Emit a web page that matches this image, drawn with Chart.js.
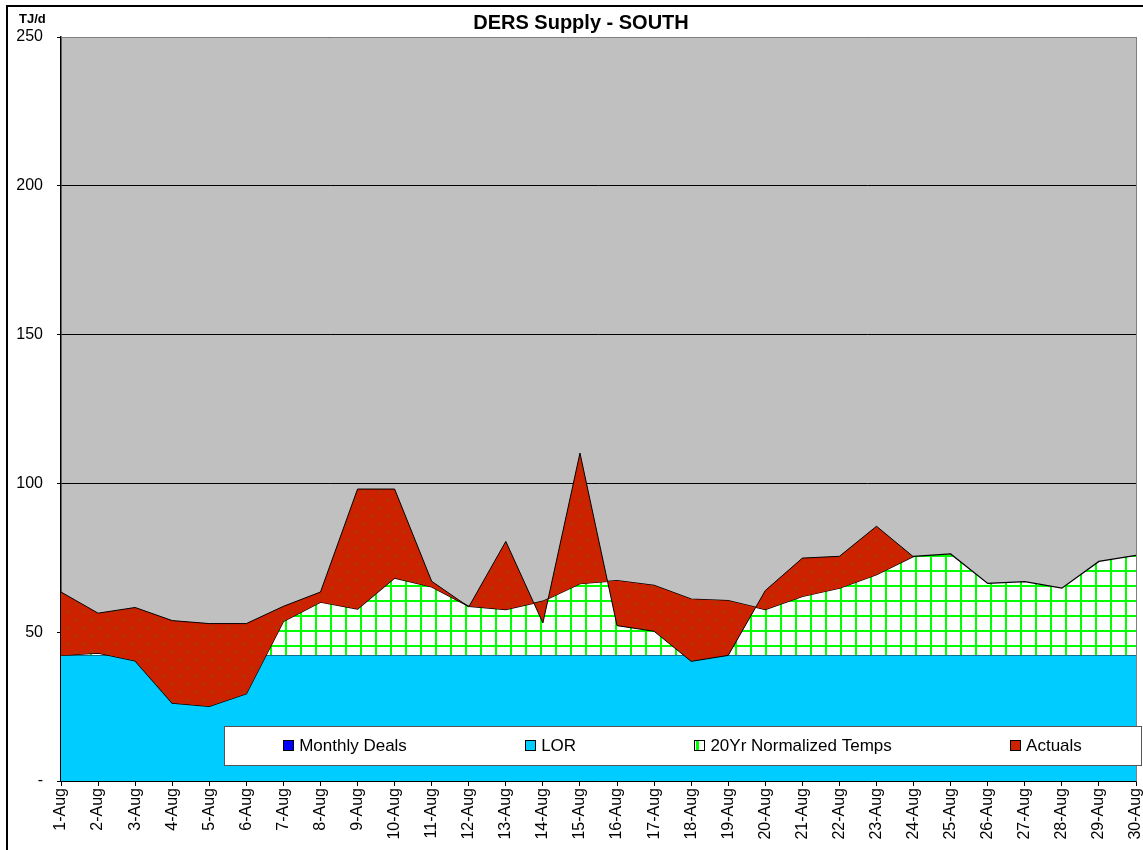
<!DOCTYPE html>
<html>
<head>
<meta charset="utf-8">
<title>DERS Supply - SOUTH</title>
<script src="https://cdn.jsdelivr.net/npm/chart.js@4"></script>
<style>
  body { margin: 0; background: #fff; }
  canvas { display: block; }
</style>
</head>
<body>
<canvas id="myChart" width="1143" height="850"></canvas>
<script>
'use strict';
// values (TJ/d)
let days = ['1-Aug','2-Aug','3-Aug','4-Aug','5-Aug','6-Aug','7-Aug','8-Aug','9-Aug','10-Aug',
  '11-Aug','12-Aug','13-Aug','14-Aug','15-Aug','16-Aug','17-Aug','18-Aug','19-Aug','20-Aug',
  '21-Aug','22-Aug','23-Aug','24-Aug','25-Aug','26-Aug','27-Aug','28-Aug','29-Aug','30-Aug'];
let monthlyDeals = [0,0,0,0,0,0,0,0,0,0, 0,0,0,0,0,0,0,0,0,0, 0,0,0,0,0,0,0,0,0,0];
let lor = [42.3,42.3,42.3,42.3,42.3,42.3,42.3,42.3,42.3,42.3, 42.3,42.3,42.3,42.3,42.3,42.3,42.3,42.3,42.3,42.3,
  42.3,42.3,42.3,42.3,42.3,42.3,42.3,42.3,42.3,42.3];
let normTemps = [42.2,43.0,40.4,26.2,25.1,29.3,53.6,60.1,57.8,68.2, 65.2,58.7,57.6,60.4,66.3,67.3,65.7,61.1,60.6,57.6,
  62.0,64.8,69.3,75.5,76.3,66.4,67.0,64.8,73.8,75.8];
let actuals = [63.5,56.4,58.3,53.9,52.9,52.9,58.7,63.5,98.1,98.1, 67.1,58.5,80.5,53.1,110.2,52.2,50.3,40.2,42.2,64.0,
  74.9,75.5,85.6,75.3,null,null,null,null,null,null];
let yTicks = [0, 50, 100, 150, 200, 250];

let seriesNames = ['Monthly Deals', 'LOR', '20Yr Normalized Temps', 'Actuals'];
let chartTitle = 'DERS Supply - SOUTH';
let unitLabel = 'TJ/d';

function gridPattern() {
  let c = document.createElement('canvas');
  c.width = 15; c.height = 15;
  let g = c.getContext('2d');
  g.fillStyle = '#ffffff';
  g.fillRect(0, 0, 15, 15);
  g.fillStyle = '#00ff00';
  g.fillRect(0, 0, 2, 15);
  g.fillRect(0, 0, 15, 2);
  return g.createPattern(c, 'repeat');
}

function dotPattern() {
  let c = document.createElement('canvas');
  c.width = 16; c.height = 16;
  let g = c.getContext('2d');
  g.fillStyle = '#cc2200';
  g.fillRect(0, 0, 16, 16);
  g.fillStyle = '#8e4a00';
  g.fillRect(3, 3, 2, 2);
  g.fillRect(11, 11, 2, 2);
  return g.createPattern(c, 'repeat');
}

let greenFill = gridPattern();
let redFill = dotPattern();

// gray plot area, outer frame, title and unit label
let backdrop = {
  id: 'backdrop',
  beforeDraw(chart) {
    let ctx = chart.ctx;
    let a = chart.chartArea;
    ctx.save();
    ctx.fillStyle = '#ffffff';
    ctx.fillRect(0, 0, chart.width, chart.height);
    ctx.fillStyle = '#c0c0c0';
    ctx.fillRect(a.left, a.top, a.right - a.left, a.bottom - a.top);
    ctx.strokeStyle = '#000';
    ctx.lineWidth = 2;
    ctx.strokeRect(7, 6, chart.width + 20, chart.height + 20);
    ctx.restore();
  },
  afterDraw(chart) {
    let ctx = chart.ctx;
    let a = chart.chartArea;
    ctx.save();
    ctx.strokeStyle = '#808080';
    ctx.lineWidth = 1;
    ctx.beginPath();
    ctx.moveTo(a.right + 0.5, a.top);
    ctx.lineTo(a.right + 0.5, a.bottom);
    ctx.moveTo(a.left, a.top + 0.5);
    ctx.lineTo(a.right, a.top + 0.5);
    ctx.stroke();
    ctx.fillStyle = '#000';
    ctx.textBaseline = 'middle';
    ctx.textAlign = 'left';
    ctx.font = 'bold 13px Arial, "Liberation Sans"';
    ctx.fillText(unitLabel, 19, 19);
    ctx.textAlign = 'center';
    ctx.font = 'bold 20px Arial, "Liberation Sans"';
    ctx.fillText(chartTitle, 581, 23);
    ctx.restore();
  }
};

// legend box sitting inside the plot, like the excel one
let boxLegend = {
  id: 'boxLegend',
  afterDraw(chart) {
    let ctx = chart.ctx;
    let left = 224, top = 726, right = 1141, bottom = 765;
    let mid = (top + bottom) / 2;
    let sw = 11, gap = 5;
    ctx.save();
    ctx.fillStyle = '#fff';
    ctx.fillRect(left, top, right - left, bottom - top);
    ctx.strokeStyle = '#555';
    ctx.lineWidth = 1;
    ctx.strokeRect(left + 0.5, top + 0.5, right - left, bottom - top);
    ctx.font = '17px Arial, "Liberation Sans"';
    ctx.textBaseline = 'middle';
    let widths = [];
    let total = 0;
    let sets = chart.data.datasets;
    for (let i = 0; i < sets.length; i++) {
      let w = sw + gap + ctx.measureText(sets[i].label).width;
      widths.push(w);
      total += w;
    }
    let space = (right - left - total) / sets.length;
    let x = left + space / 2;
    for (let i = 0; i < sets.length; i++) {
      let sy = Math.round(mid - sw / 2);
      let sx = Math.round(x);
      ctx.fillStyle = sets[i].swatch;
      ctx.fillRect(sx, sy, sw, sw);
      if (sets[i].hatched) {
        ctx.fillStyle = '#00ff00';
        ctx.fillRect(sx + 2, sy, 3, sw);
      }
      ctx.strokeStyle = '#000';
      ctx.strokeRect(sx + 0.5, sy + 0.5, sw - 1, sw - 1);
      ctx.fillStyle = '#000';
      ctx.fillText(sets[i].label, x + sw + gap, mid + 1);
      x += widths[i] + space;
    }
    ctx.restore();
  }
};

let ctx = document.getElementById('myChart').getContext('2d');
let myChart = new Chart(ctx, {
  type: 'line',
  data: {
    labels: days,
    datasets: [{
      label: seriesNames[0],
      data: monthlyDeals,
      showLine: false,
      fill: false,
      pointRadius: 0,
      borderColor: '#0000ff',
      backgroundColor: '#0000ff',
      swatch: '#0000ff',
      order: 3
    }, {
      label: seriesNames[1],
      data: lor,
      fill: 'origin',
      backgroundColor: '#00ccff',
      borderColor: '#1a3a40',
      borderWidth: 1,
      pointRadius: 0,
      swatch: '#00ccff',
      order: 2
    }, {
      label: seriesNames[2],
      data: normTemps,
      fill: 1,
      backgroundColor: greenFill,
      borderColor: '#000',
      borderWidth: 1.3,
      pointRadius: 0,
      swatch: '#ffffff',
      hatched: true,
      order: 1
    }, {
      label: seriesNames[3],
      data: actuals,
      fill: 2,
      backgroundColor: redFill,
      borderColor: '#000',
      borderWidth: 1,
      pointRadius: 0,
      swatch: '#cc2200',
      order: 0
    }]
  },
  options: {
    responsive: false,
    animation: false,
    devicePixelRatio: 1,
    elements: { line: { tension: 0 } },
    layout: { padding: { left: 8, right: 7, top: 37, bottom: 0 } },
    plugins: {
      legend: { display: false },
      tooltip: { enabled: false },
      title: { display: false }
    },
    scales: {
      x: {
        type: 'category',
        offset: false,
        grid: { display: true, drawOnChartArea: false, drawTicks: true, tickLength: 5, color: '#000' },
        border: { color: '#000', width: 1.5 },
        ticks: {
          autoSkip: false,
          maxRotation: 90,
          minRotation: 90,
          padding: 2,
          color: '#000',
          font: { family: 'Arial, "Liberation Sans"', size: 16 }
        },
        afterFit(scale) {
          scale.height = 69;
          scale.paddingLeft = 0;
          scale.paddingRight = 0;
        }
      },
      y: {
        min: 0,
        max: 250,
        afterBuildTicks(scale) { scale.ticks = yTicks.map(v => ({ value: v })); },
        grid: { color: '#000', tickLength: 4, lineWidth: 1 },
        border: { color: '#000', width: 1.5 },
        ticks: {
          padding: 14,
          color: '#000',
          font: { family: 'Arial, "Liberation Sans"', size: 16 },
          callback: v => (v === 0 ? '-' : v)
        },
        afterFit(scale) {
          scale.width = 53;
          scale.paddingTop = 0;
          scale.paddingBottom = 0;
        }
      }
    }
  },
  plugins: [backdrop, boxLegend]
});
</script>
</body>
</html>
